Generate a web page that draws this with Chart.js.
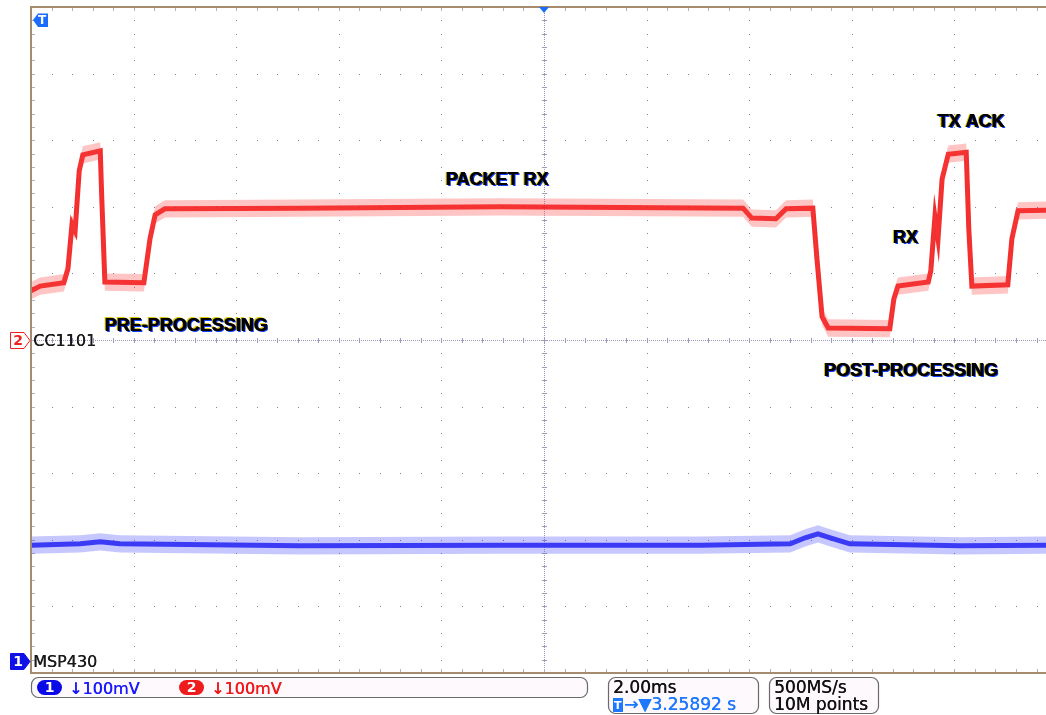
<!DOCTYPE html>
<html>
<head>
<meta charset="utf-8">
<script src="https://cdn.jsdelivr.net/npm/chart.js@4.4.0/dist/chart.umd.min.js"></script>
<style>
  html, body { margin: 0; padding: 0; background: #fff; }
  #wrap { position: relative; width: 1046px; height: 715px; }
</style>
</head>
<body>
<div id="wrap"><canvas id="chart"></canvas></div>
<script>
// time in ms (2 ms/div, trigger at 0), levels in mV from each channel's marker
const ch2Time = [-10, -9.82, -9.36, -9.28, -9.2, -9.14, -9.06, -8.99, -8.65, -8.62, -8.56, -7.8, -7.68, -7.58,
  -7.39, -4.76, -0.86, 3.88, 4.05, 4.52, 4.72, 5.24, 5.32, 5.42, 5.54, 6.74, 6.82, 6.9, 7.49, 7.54, 7.62,
  7.68, 7.76, 7.88, 8.23, 8.28, 8.34, 9.04, 9.12, 9.24, 9.79];
const ch2Level = [74, 81, 86, 107, 174, 164, 254, 278, 284, 212, 87, 86, 152, 188,
  197, 198, 200, 198, 183, 182, 197, 198, 122, 35, 18, 17, 62, 81, 87, 104, 185,
  152, 242, 279, 282, 167, 81, 83, 152, 194, 195];
const ch2Noise = 13;

const ch1Time = [-10, -9.04, -8.65, -8.27, -4.76, -0.86, 3.04, 4.8, 5.09, 5.34, 5.58, 5.96, 8.11, 9.79];
const ch1Level = [174, 176, 179, 176, 173, 174, 174, 176, 185, 191, 185, 176, 173, 174];
const ch1Noise = 13;

const ch1Offset = -482;
const ch2Offset = 0;

const xTicks = [-10, -8, -6, -4, -2, 0, 2, 4, 6, 8];
const yTicks = [-500, -400, -300, -200, -100, 0, 100, 200, 300, 400, 500];

const notes = [
  { text: "PACKET RX", x: -0.92, y: 240 },
  { text: "PRE-PROCESSING", x: -6.98, y: 21 },
  { text: "TX ACK", x: 8.32, y: 327 },
  { text: "RX", x: 7.04, y: 153 },
  { text: "POST-PROCESSING", x: 7.15, y: -47 }
];

const pts = (time, level, off, d) => time.map((t, i) => ({ x: t, y: level[i] + off + d }));

const traceSets = (time, level, off, noise, band, core) => [
  { data: pts(time, level, off, noise), borderWidth: 0, backgroundColor: band, fill: "+1" },
  { data: pts(time, level, off, -noise), borderWidth: 0, fill: false },
  { data: pts(time, level, off, 0), borderColor: core, borderWidth: 5, fill: false }
];

// draw text twice, a bit apart, to get the scope's heavier strokes
const heavy = (ctx, text, px, py) => {
  ctx.fillText(text, px, py);
  ctx.fillText(text, px + 0.4, py);
};

const scope = {
  id: "scope",
  beforeDatasetsDraw(chart) {
    const { ctx, chartArea: a, scales: { x, y } } = chart;
    const mx = x.getPixelForValue(0.4) - x.getPixelForValue(0);
    const my = y.getPixelForValue(0) - y.getPixelForValue(20);
    ctx.save();
    ctx.fillStyle = "#7e7eaa";
    yTicks.slice(1, -1).forEach((v) => {
      const py = Math.round(y.getPixelForValue(v));
      for (let px = a.left; px <= a.right; px += mx) ctx.fillRect(Math.round(px), py, 1, 1);
    });
    xTicks.slice(1).forEach((v) => {
      const px = Math.round(x.getPixelForValue(v));
      for (let py = a.top; py <= a.bottom; py += my) ctx.fillRect(px, Math.round(py), 1, 1);
    });
    // centre cross
    const cx = Math.round(x.getPixelForValue(0));
    const cy = Math.round(y.getPixelForValue(0));
    ctx.fillStyle = "#9a9ac0";
    for (let py = a.top; py <= a.bottom; py += 2) ctx.fillRect(cx, py, 1, 1);
    for (let px = a.left; px <= a.right; px += 2) ctx.fillRect(px, cy, 1, 1);
    for (let py = a.top; py <= a.bottom; py += my) ctx.fillRect(cx - 2, Math.round(py), 5, 1);
    for (let px = a.left; px <= a.right; px += mx) ctx.fillRect(Math.round(px), cy - 2, 1, 5);
    // edge ticks
    ctx.fillStyle = "#b0b0c0";
    for (let px = a.left; px <= a.right; px += mx) {
      ctx.fillRect(Math.round(px), a.top, 1, 4);
      ctx.fillRect(Math.round(px), a.bottom - 4, 1, 4);
    }
    for (let py = a.top; py <= a.bottom; py += my) ctx.fillRect(a.left, Math.round(py), 4, 1);
    ctx.restore();
  },
  afterDatasetsDraw(chart) {
    const { ctx, chartArea: a, scales: { x, y } } = chart;
    ctx.save();
    // frame
    ctx.fillStyle = "#a58c6e";
    ctx.fillRect(a.left - 1, a.top - 1, 2, a.bottom - a.top + 2);
    ctx.fillRect(a.left - 1, a.top - 1, a.right - a.left + 1, 2);
    ctx.fillRect(a.left - 1, a.bottom - 1, a.right - a.left + 1, 2);

    // annotations
    ctx.font = "bold 18px 'Liberation Sans', Arial, sans-serif";
    ctx.textAlign = "center";
    ctx.textBaseline = "middle";
    notes.forEach((n) => {
      const px = x.getPixelForValue(n.x);
      const py = y.getPixelForValue(n.y);
      ctx.fillStyle = "#e0c800";
      ctx.fillText(n.text, px - 1, py - 0.5);
      ctx.fillStyle = "#1040ff";
      ctx.fillText(n.text, px + 1.5, py + 1);
      ctx.fillStyle = "#000";
      ctx.fillText(n.text, px, py);
      ctx.fillText(n.text, px + 0.7, py);
    });

    // trigger markers
    const cx = x.getPixelForValue(0);
    ctx.fillStyle = "#1a6cff";
    ctx.beginPath();
    ctx.moveTo(cx - 5, a.top); ctx.lineTo(cx + 5, a.top); ctx.lineTo(cx, a.top + 6);
    ctx.closePath(); ctx.fill();
    ctx.beginPath();
    ctx.moveTo(33, 20); ctx.lineTo(38, 13.5); ctx.lineTo(48, 13.5); ctx.lineTo(48, 27); ctx.lineTo(38, 27);
    ctx.closePath(); ctx.fill();
    ctx.fillStyle = "#fff";
    ctx.font = "bold 12px 'DejaVu Sans', sans-serif";
    ctx.fillText("T", 42, 21);

    // channel markers
    const marker = (py, label, name, color, filled) => {
      ctx.beginPath();
      ctx.moveTo(10.5, py - 8); ctx.lineTo(24, py - 8); ctx.lineTo(30, py); ctx.lineTo(24, py + 8); ctx.lineTo(10.5, py + 8);
      ctx.closePath();
      ctx.fillStyle = filled ? color : "#fff";
      ctx.fill();
      ctx.lineWidth = 1;
      ctx.strokeStyle = color;
      ctx.stroke();
      ctx.fillStyle = filled ? "#fff" : color;
      ctx.font = "bold 14px 'DejaVu Sans', sans-serif";
      ctx.textAlign = "center";
      ctx.fillText(label, 18, py + 1);
      ctx.fillStyle = "#1a1a1a";
      ctx.font = "16px 'DejaVu Sans', sans-serif";
      ctx.textAlign = "left";
      heavy(ctx, name, 33, py + 1);
    };
    marker(Math.round(y.getPixelForValue(ch2Offset)) + 0.5, "2", "CC1101", "#ee2020", false);
    marker(Math.round(y.getPixelForValue(ch1Offset)) + 0.5, "1", "MSP430", "#1010e8", true);
    ctx.restore();
  },
  afterDraw(chart) {
    const { ctx } = chart;
    ctx.save();
    const box = (x0, y0, w, h) => {
      ctx.beginPath();
      ctx.roundRect(x0 + 0.5, y0 + 0.5, w, h, 7);
      ctx.fillStyle = "#fdf9fd";
      ctx.fill();
      ctx.strokeStyle = "#6a6a6a";
      ctx.lineWidth = 1.2;
      ctx.stroke();
    };
    box(31, 677, 556, 20);
    box(608, 677, 150, 36);
    box(769, 677, 109, 36);

    const pill = (x0, label, color) => {
      ctx.beginPath();
      ctx.roundRect(x0, 680, 25, 15, 7.5);
      ctx.fillStyle = color;
      ctx.fill();
      ctx.fillStyle = "#fff";
      ctx.font = "bold 14px 'DejaVu Sans', sans-serif";
      ctx.textAlign = "center";
      ctx.textBaseline = "middle";
      ctx.fillText(label, x0 + 12.5, 688);
    };
    pill(37, "1", "#0a0ae8");
    pill(179, "2", "#ee1c1c");

    ctx.textAlign = "left";
    ctx.textBaseline = "alphabetic";
    ctx.font = "16px 'DejaVu Sans', sans-serif";
    ctx.fillStyle = "#1a1aff";
    heavy(ctx, "\u2193100mV", 69, 694);
    ctx.fillStyle = "#f01818";
    heavy(ctx, "\u2193100mV", 211, 694);

    ctx.font = "17px 'DejaVu Sans', sans-serif";
    ctx.fillStyle = "#111";
    heavy(ctx, "2.00ms", 613, 693);
    heavy(ctx, "500MS/s", 774, 693);
    heavy(ctx, "10M points", 774, 710);
    ctx.fillStyle = "#1e78ff";
    ctx.fillRect(613, 698, 10, 14);
    heavy(ctx, "\u2192\u25BC3.25892 s", 624, 710);
    ctx.fillStyle = "#fff";
    ctx.font = "bold 11px 'DejaVu Sans', sans-serif";
    ctx.fillText("T", 614, 709);
    ctx.restore();
  }
};

new Chart(document.getElementById("chart"), {
  type: "line",
  data: {
    datasets: [
      ...traceSets(ch1Time, ch1Level, ch1Offset, ch1Noise, "rgba(70,70,255,0.3)", "rgba(20,20,240,0.85)"),
      ...traceSets(ch2Time, ch2Level, ch2Offset, ch2Noise, "rgba(255,60,60,0.3)", "rgba(240,10,10,0.85)")
    ]
  },
  options: {
    responsive: true,
    maintainAspectRatio: false,
    animation: false,
    layout: { padding: { left: 31, top: 7, right: 0, bottom: 42 } },
    elements: { point: { radius: 0 }, line: { tension: 0 } },
    plugins: { legend: { display: false }, tooltip: { enabled: false } },
    scales: {
      x: { type: "linear", display: false, min: -10, max: 9.785 },
      y: { type: "linear", display: false, min: -500, max: 500 }
    }
  },
  plugins: [scope]
});
</script>
</body>
</html>
